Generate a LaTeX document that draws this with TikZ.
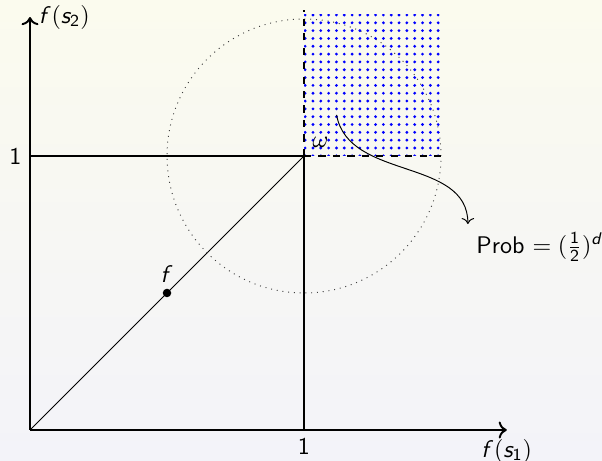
\documentclass[tikz,border=0pt]{standalone}
\usetikzlibrary{positioning, arrows.meta, patterns.meta}
\DeclareMathAlphabet{\mathsl}{OT1}{cmss}{m}{sl}
\DeclareMathAlphabet{\mathsn}{OT1}{cmss}{m}{n}
\definecolor{bgtop}{RGB}{251,251,238}
\definecolor{bgbottom}{RGB}{243,243,249}
\definecolor{dotblue}{RGB}{0,0,255}

\begin{document}
\sffamily
\begin{tikzpicture}[x=4cm, y=4cm, >=To,
    axis/.style={thick, ->},
    bound/.style={thick},
    halo/.style={dotted, black!75},
    corner/.style={line width=1.1pt, dashed},
    mark dot/.style={circle, fill, inner sep=1.25pt}]
  % background
  \shade[top color=bgtop, bottom color=bgbottom] (-0.1095,-0.1131) rectangle (2.0876,1.5693);
  \useasboundingbox (-0.1095,-0.1131) rectangle (2.0876,1.5693);
  \coordinate (O) at (0,0);
  \coordinate (xend) at (1.74,0);
  \coordinate (yend) at (0,1.507);
  \coordinate (xone) at (1,0);
  \coordinate (yone) at (0,1);
  \coordinate (w) at (1,1);
  \coordinate (wtop) at (1,1.533);
  \coordinate (wright) at (1.526,1);
  \coordinate (src) at (1.119,1.150);
  % axes
  \draw[axis] (O) -- (xend) node[below] (xlab) {$\mathsl{f}(\mathsl{s}_{\mathsn{1}})$};
  \draw[axis] (O) -- (yend) node[right] (ylab) {$\mathsl{f}(\mathsl{s}_{\mathsn{2}})$};
  \node[below] (xtick) at (xone) {1};
  \node[left] (ytick) at (yone) {1};
  % unit square and diagonal
  \draw[bound] (yone) -- (w) -- (xone);
  \draw (O) -- (w);
  \node[mark dot, label={[inner sep=2pt]above:$\mathsl{f}$}] (fpt) at (0.5,0.5) {};
  % neighbourhood of omega
  \draw[halo] (w) circle (0.5);
  \fill[pattern={Dots[distance=3.25pt, radius=0.65pt]}, pattern color=dotblue] (w) rectangle (1.507,1.515);
  \draw[corner] (w) -- (wtop);
  \draw[corner] (w) -- (wright);
  \node[above right] (omega) at (w) {$\omega$};
  \node (prob) at (1.861,0.668) {Prob $=(\frac{\mathsn{1}}{\mathsn{2}})^{\mathsl{d}}$};
  \draw[->] (src) to[out=-80, in=90] (prob.north west);
\end{tikzpicture}
\end{document}
